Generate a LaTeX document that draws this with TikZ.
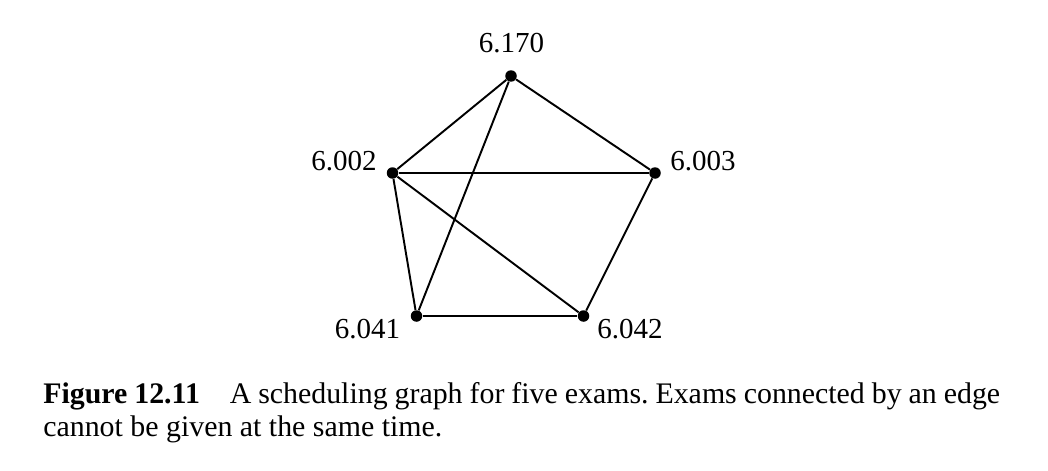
\documentclass[tikz,border=0pt]{standalone}
\usepackage{fontspec}
\setmainfont{Liberation Serif}
\usetikzlibrary{positioning}
\tikzstyle{exam} = [circle, fill=black, inner sep=0pt, minimum size=0.23cm]
\tikzstyle{tag} = [inner sep=0pt, font=\fontsize{16.5}{20}\selectfont]
\tikzstyle{edge} = [line width=1.1pt]
\tikzstyle{caption} = [inner sep=0pt, text width=19.14cm, align=justify, font=\fontsize{17}{19.3}\selectfont]

\begin{document}
\frenchspacing
\begin{tikzpicture}[x=0.02cm, y=-0.02cm]
\useasboundingbox (0,0) rectangle (1048,470);
% Placement of exam nodes
\node (e170) [exam] at (511,76) {};
\node (e002) [exam] at (392.5,173) {};
\node (e003) [exam] at (655,173) {};
\node (e041) [exam] at (416.5,316) {};
\node (e042) [exam] at (583.5,316) {};

% Exam names
\node (t170) [tag] at (511.5,43) {6.170};
\node (t002) [tag] at (344,161) {6.002};
\node (t003) [tag] at (703,161) {6.003};
\node (t041) [tag] at (367.5,329) {6.041};
\node (t042) [tag] at (630,329) {6.042};

% Drawing of conflict edges
\draw [edge] (e170) -- (e002);
\draw [edge] (e170) -- (e003);
\draw [edge] (e170) -- (e041);
\draw [edge] (e002) -- (e003);
\draw [edge] (e002) -- (e041);
\draw [edge] (e002) -- (e042);
\draw [edge] (e003) -- (e042);
\draw [edge] (e041) -- (e042);

% Caption
\node (cap) [caption, anchor=base west] at (43,403) {\textbf{Figure 12.11}\quad A scheduling graph for five exams. Exams connected by an edge\linebreak cannot be given at the same time.};
\end{tikzpicture}
\end{document}
